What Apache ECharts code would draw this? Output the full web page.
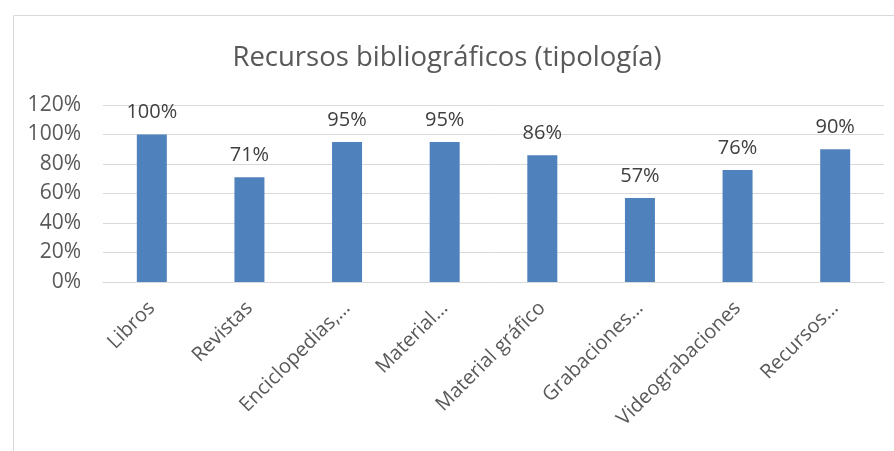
<!DOCTYPE html>
<html><head><meta charset="utf-8">
<script src="https://cdn.jsdelivr.net/npm/echarts@6/dist/echarts.min.js"></script>
<style>html,body{margin:0;padding:0;background:#fff}#c{width:894px;height:451px}</style>
</head><body><div id="c"></div>
<script>
const title = 'Recursos bibliográficos (tipología)';
const categories = ['Libros','Revistas','Enciclopedias,…','Material…','Material gráfico','Grabaciones…','Videograbaciones','Recursos…'];
const values = [1.00, 0.71, 0.95, 0.95, 0.86, 0.57, 0.76, 0.90];
const yTicks = {min: 0, max: 1.2, interval: 0.2};

const FONT = '"Open Sans", sans-serif';
const chart = echarts.init(document.getElementById('c'), null, {renderer: 'canvas'});
chart.setOption({
  animation: false,
  backgroundColor: '#fff',
  graphic: [{
    type: 'rect', left: 11, top: 13, shape: {width: 1000, height: 500},
    style: {fill: 'none', stroke: '#d9d9d9', lineWidth: 1}, silent: true
  }],
  title: {
    text: title, left: 'center', top: 39,
    textStyle: {fontFamily: FONT, fontSize: 27.5, fontWeight: 'normal', color: '#595959'}
  },
  grid: {left: 103, right: 10, top: 105, bottom: 169, containLabel: false},
  xAxis: {
    type: 'category', data: categories,
    axisLine: {lineStyle: {color: '#d9d9d9', width: 1}},
    axisTick: {show: false},
    axisLabel: {rotate: 45, interval: 0, fontFamily: FONT, fontSize: 20, color: '#595959', margin: 23}
  },
  yAxis: {
    type: 'value', min: yTicks.min, max: yTicks.max, interval: yTicks.interval,
    axisLine: {show: false}, axisTick: {show: false},
    splitLine: {lineStyle: {color: '#d9d9d9', width: 1}},
    axisLabel: {fontFamily: FONT, fontSize: 21, color: '#595959', margin: 22,
      formatter: v => Math.round(v * 100) + '%'}
  },
  series: [{
    type: 'bar', data: values, barWidth: 30,
    itemStyle: {color: '#4f81bd'},
    label: {show: true, position: 'top', distance: 12, fontFamily: FONT, fontSize: 20, color: '#404040',
      formatter: p => Math.round(p.value * 100) + '%'}
  }]
});
</script></body></html>
